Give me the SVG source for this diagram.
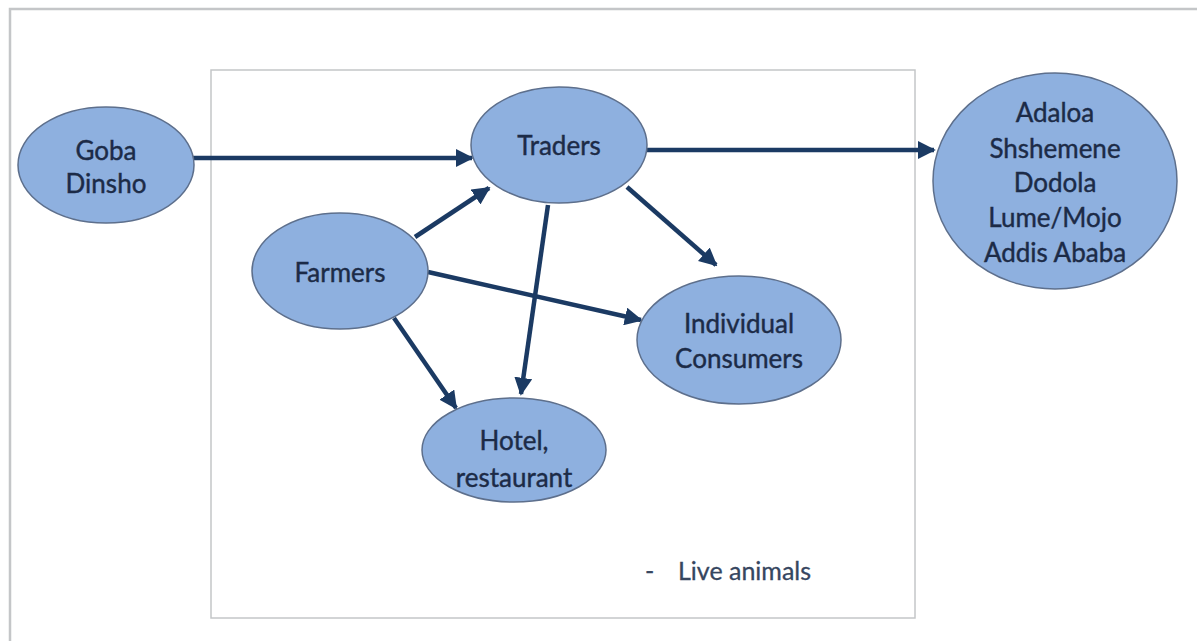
<svg xmlns="http://www.w3.org/2000/svg" width="1197" height="641" viewBox="0 0 1197 641">
  <defs>
    <style>
      .node { fill: #8eb0df; stroke: #5d6f8c; stroke-width: 1.5; }
      .label { font-family: Lato, "Open Sans", "Liberation Sans", sans-serif; font-size: 26px; fill: #1c2b47; stroke: #1c2b47; stroke-width: 0.4; text-anchor: middle; }
      .edge { stroke: #1b3a63; stroke-width: 4.5; fill: none; marker-end: url(#arrow); }
      .frame { fill: none; stroke: #c4c6c8; }
      .note { font-family: Lato, "Open Sans", "Liberation Sans", sans-serif; font-size: 25px; fill: #36465f; stroke: #36465f; stroke-width: 0.3; }
    </style>
    <marker id="arrow" viewBox="0 0 10 10" refX="9" refY="5" markerWidth="18" markerHeight="18" markerUnits="userSpaceOnUse" orient="auto">
      <path d="M0,0 L10,5 L0,10 z" fill="#1b3a63"/>
    </marker>
  </defs>

  <rect width="1197" height="641" fill="#ffffff"/>

  <!-- outer slide frame (only top and left edges fall inside the view) -->
  <path class="frame" d="M10,641 L10,9 L1197,9" stroke-width="2.5"/>
  <!-- inner box -->
  <rect class="frame" x="211" y="70" width="704" height="548" stroke-width="1.5"/>

  <g id="connectors">
    <line class="edge" x1="193" y1="158" x2="472" y2="158"/>
    <line class="edge" x1="647" y1="150" x2="934" y2="150"/>
    <line class="edge" x1="415" y1="237" x2="489" y2="188"/>
    <line class="edge" x1="627" y1="187" x2="716" y2="265"/>
    <line class="edge" x1="548" y1="205" x2="521" y2="394"/>
    <line class="edge" x1="428" y1="272" x2="641" y2="320"/>
    <line class="edge" x1="394" y1="318" x2="456" y2="408"/>
  </g>

  <g id="goba">
    <ellipse class="node" cx="106" cy="165" rx="88" ry="58"/>
    <text class="label" x="106" y="160">Goba</text>
    <text class="label" x="106" y="193">Dinsho</text>
  </g>

  <g id="traders">
    <ellipse class="node" cx="559" cy="145" rx="88" ry="58"/>
    <text class="label" x="559" y="155">Traders</text>
  </g>

  <g id="farmers">
    <ellipse class="node" cx="340" cy="271" rx="88" ry="58"/>
    <text class="label" x="340" y="282">Farmers</text>
  </g>

  <g id="consumers">
    <ellipse class="node" cx="739" cy="340" rx="102" ry="64"/>
    <text class="label" x="739" y="333">Individual</text>
    <text class="label" x="739" y="368">Consumers</text>
  </g>

  <g id="hotel">
    <ellipse class="node" cx="514" cy="450" rx="92" ry="52"/>
    <text class="label" x="514" y="450">Hotel,</text>
    <text class="label" x="514" y="487">restaurant</text>
  </g>

  <g id="destinations">
    <ellipse class="node" cx="1055" cy="181" rx="122" ry="108"/>
    <text class="label" x="1055" y="122">Adaloa</text>
    <text class="label" x="1055" y="158">Shshemene</text>
    <text class="label" x="1055" y="192">Dodola</text>
    <text class="label" x="1055" y="227">Lume/Mojo</text>
    <text class="label" x="1055" y="262">Addis Ababa</text>
  </g>

  <g id="note">
    <text class="note" x="645" y="580">-</text>
    <text class="note" x="678" y="580">Live animals</text>
  </g>
</svg>
